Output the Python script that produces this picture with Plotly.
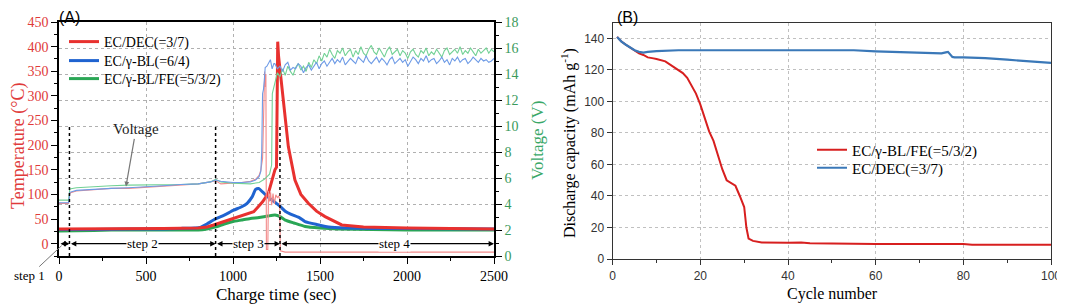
import plotly.graph_objects as go

# ---------------- Panel A data ----------------
temp_red_t = [0, 200, 400, 600, 800, 850, 888, 950, 1004, 1060, 1119, 1145, 1170, 1203, 1220, 1241, 1250, 1254, 1257, 1262, 1276, 1295, 1318, 1356, 1390, 1433, 1480, 1529, 1625, 1750, 2000, 2500]
temp_red = [30, 30, 31, 31, 32, 34, 38, 45, 51, 58, 65, 75, 85, 102, 125, 150, 155, 300, 410, 380, 332, 264, 197, 129, 100, 82, 66, 55, 38, 34, 32, 30]

temp_blue_t = [0, 200, 400, 600, 700, 780, 811, 850, 888, 950, 1004, 1050, 1081, 1110, 1130, 1148, 1170, 1200, 1235, 1270, 1300, 1331, 1385, 1414, 1481, 1550, 1650, 1800, 2000, 2500]
temp_blue = [29, 29, 30, 30, 31, 32, 33, 40, 48, 58, 68, 75, 82, 95, 110, 112, 105, 95, 86, 76, 66, 60, 52, 45, 39, 34, 32, 31, 31, 30]

temp_green_t = [0, 200, 400, 600, 800, 850, 900, 950, 1000, 1050, 1100, 1150, 1200, 1241, 1270, 1300, 1350, 1414, 1500, 1605, 1800, 2000, 2500]
temp_green = [26, 27, 28, 28, 28, 30, 34, 40, 45, 48, 51, 53, 56, 58, 55, 48, 42, 35, 32, 30, 29, 28, 28]

volt_red_t = [0, 55, 60, 62, 100, 200, 300, 400, 500, 600, 700, 800, 870, 900, 930, 1000, 1050, 1100, 1130, 1150, 1160, 1170, 1178, 1182, 1186, 1189, 1192, 1200, 1204, 1210, 1216, 1222, 1230, 1238, 1246, 1255, 1262, 1268, 1272, 1300, 1600, 2000, 2500]
volt_red = [4.05, 4.05, 4.6, 4.85, 5.0, 5.1, 5.2, 5.2, 5.3, 5.4, 5.45, 5.55, 5.7, 5.8, 5.55, 5.6, 5.65, 5.75, 5.9, 6.2, 6.6, 7.5, 12.5, 14.2, 13.0, 14.0, 0.5, 0.5, 5.0, 4.2, 4.9, 3.9, 4.8, 4.0, 4.7, 4.5, 4.6, 4.4, 0.4, 0.3, 0.3, 0.3, 0.3]

volt_blue_t0 = [0, 55, 60, 62, 100, 200, 300, 400, 500, 600, 700, 800, 870, 900, 930, 1000, 1050, 1100, 1130, 1150, 1160, 1165, 1170, 1175, 1180, 1185, 1195, 1205, 1215, 1225, 1235]
volt_blue0 = [4.1, 4.1, 4.6, 4.9, 5.05, 5.15, 5.2, 5.25, 5.3, 5.4, 5.5, 5.55, 5.7, 5.85, 5.75, 5.65, 5.65, 5.7, 5.85, 6.1, 6.5, 8.0, 12.5, 12.8, 13.5, 14.5, 14.6, 14.9, 15.1, 14.4, 14.8]
volt_blue_noisy = [14.8, 14.4, 14.6, 14.2, 14.7, 14.9, 14.3, 14.5, 14.4, 14.8, 14.6, 14.1, 14.5, 14.7, 14.3, 14.6, 14.9,
                   14.4, 14.8, 15.0, 14.6, 14.9, 15.2, 14.8,
                   15.1, 14.9, 15.3, 14.7, 15.0, 15.2, 15.0, 14.8, 15.3, 15.1, 14.9, 15.4, 15.0, 14.8, 15.1, 15.3,
                   14.9, 15.2, 15.0, 14.7, 15.1, 15.3, 14.8, 15.0, 15.2, 14.9, 15.1, 14.6, 15.0, 15.3, 15.1, 14.8,
                   15.2, 15.0, 15.4, 14.9, 15.1, 15.2, 14.8, 15.0, 15.3, 14.9, 15.1, 14.7, 15.2, 15.0, 15.3, 14.9,
                   15.1, 15.2, 14.8, 15.0, 15.3, 15.1, 14.9, 15.2, 15.0, 15.1, 14.9, 15.0, 15.2]

volt_green_t0 = [0, 55, 60, 62, 100, 200, 300, 400, 500, 600, 700, 800, 870, 900, 930, 1000, 1050, 1100, 1150, 1180, 1210, 1222, 1226, 1232]
volt_green0 = [4.3, 4.3, 4.9, 5.15, 5.25, 5.35, 5.4, 5.45, 5.45, 5.45, 5.5, 5.55, 5.7, 5.9, 5.7, 5.6, 5.55, 5.55, 5.65, 5.9, 6.3, 7.0, 12.5, 12.8]
volt_green_noisy = [13.4, 14.1, 13.8, 14.4, 13.9, 14.6, 14.2, 13.9, 14.5, 14.8, 14.3, 14.6, 14.2, 14.9, 14.5, 15.1,
                    14.8, 15.4, 15.0, 15.6, 15.3, 15.9, 15.5, 15.2, 15.8, 15.6, 16.0, 15.4, 15.7, 15.9, 15.3, 15.8,
                    15.5, 16.1, 15.6, 15.4, 15.9, 16.2, 15.7, 15.5, 16.0, 15.6, 15.3, 15.8, 16.1, 15.5, 15.7, 15.9,
                    15.4, 15.8, 15.6, 15.2, 15.7, 15.9, 15.5, 15.3, 15.8, 15.6, 16.0, 15.4, 15.7, 15.5, 15.9, 15.6,
                    15.3, 15.8, 16.0, 15.5, 15.7, 15.9, 15.6, 16.1, 15.5, 15.8, 15.6, 16.0, 15.7, 15.4, 15.9, 15.6,
                    15.8, 16.0, 15.6, 15.9, 15.7]
noisy_start, noisy_end = 1240, 2500

step_bounds = [0, 60, 900, 1270, 2500]
step_labels = ["step 1", "step 2", "step 3", "step 4"]
step_label_x = [None, 480, 1088, 1931]

# ---------------- Panel B data ----------------
cyc_red = [1, 2, 3, 4, 5, 6, 7, 8, 9, 10, 12, 14, 16, 17, 18, 19, 20, 21, 22, 23, 24, 25, 26, 27, 28, 29, 30, 30.5, 31, 32, 34, 40, 43, 45, 50, 56, 60, 70, 80, 82, 90, 100]
cap_red = [141, 138, 136, 134, 132, 130.5, 129.5, 128, 127.5, 127, 125.5, 122, 118, 115, 110, 105, 98, 90, 81, 75, 66, 57, 50, 48, 46.5, 40, 33, 20, 13, 11.5, 10.5, 10.3, 10.5, 10, 9.8, 9.5, 9.5, 9.5, 9.5, 9, 9, 9]
cyc_blue = [1, 2, 3, 4, 5, 6, 7, 8, 10, 15, 30, 55, 60, 70, 75, 76, 76.5, 77.5, 78, 80, 85, 90, 95, 100]
cap_blue = [141, 138, 136, 134, 132.5, 131.5, 131, 131.5, 132, 132.5, 132.5, 132.5, 131.8, 131, 130.5, 131.2, 131.5, 128.3, 128, 128, 127.5, 126.5, 125.5, 124.5]


def even_times(n, t0, t1):
    return [t0 + (t1 - t0) * i / (n - 1) for i in range(n)]


volt_blue_t = volt_blue_t0 + even_times(len(volt_blue_noisy), noisy_start, noisy_end)
volt_blue = volt_blue0 + volt_blue_noisy
volt_green_t = volt_green_t0 + even_times(len(volt_green_noisy), noisy_start, noisy_end)
volt_green = volt_green0 + volt_green_noisy

SERIF = "Liberation Serif, Times New Roman, serif"
SANS = "Liberation Sans, Arial, sans-serif"

# the page body has an 8px margin: the figure is drawn from (8, 8) of the window
OFF = 8
W, H = 1065 - OFF, 306 - OFF


def PX(x):
    return (x - OFF) / W


def PY(y):
    return 1 - (y - OFF) / H


RED = "#e8312f"
BLUE = "#1f63d0"
GREEN = "#2aa655"
PINK = "#f28a8a"
LBLUE = "#6e9be6"
LGREEN = "#72d195"

fig = go.Figure()

fig.add_trace(go.Scatter(x=volt_red_t, y=volt_red, mode="lines", line=dict(color=PINK, width=1.1), yaxis="y2", xaxis="x", showlegend=False))
fig.add_trace(go.Scatter(x=volt_green_t, y=volt_green, mode="lines", line=dict(color=LGREEN, width=1.1), yaxis="y2", xaxis="x", showlegend=False))
fig.add_trace(go.Scatter(x=volt_blue_t, y=volt_blue, mode="lines", line=dict(color=LBLUE, width=1.1), yaxis="y2", xaxis="x", showlegend=False))

fig.add_trace(go.Scatter(x=temp_green_t, y=temp_green, mode="lines", line=dict(color=GREEN, width=3, shape="spline", smoothing=0.5), xaxis="x", yaxis="y", name="EC/γ-BL/FE(=5/3/2)", legend="legend3"))
fig.add_trace(go.Scatter(x=temp_blue_t, y=temp_blue, mode="lines", line=dict(color=BLUE, width=3, shape="spline", smoothing=0.5), xaxis="x", yaxis="y", name="EC/γ-BL(=6/4)", legend="legend2"))
fig.add_trace(go.Scatter(x=temp_red_t, y=temp_red, mode="lines", line=dict(color=RED, width=3), xaxis="x", yaxis="y", name="EC/DEC(=3/7)", legend="legend"))

fig.add_trace(go.Scatter(x=cyc_red, y=cap_red, mode="lines", line=dict(color="#d71f1f", width=2), xaxis="x2", yaxis="y3", name="EC/γ-BL/FE(=5/3/2)", legend="legend4"))
fig.add_trace(go.Scatter(x=cyc_blue, y=cap_blue, mode="lines", line=dict(color="#3a78b8", width=2.2), xaxis="x2", yaxis="y3", name="EC/DEC(=3/7)", legend="legend5"))

xA = [PX(59), PX(494)]
yA = [PY(256), PY(22)]
xB = [PX(612.7), PX(1051)]
yB = [PY(259), PY(22.7)]


def leg(xp, yp, size):
    return dict(x=PX(xp), y=PY(yp), xanchor="left", yanchor="middle", bgcolor="rgba(0,0,0,0)",
                font=dict(family=SERIF, size=size, color="black"), itemwidth=30)


fig.update_layout(
    width=W, height=H,
    margin=dict(l=0, r=0, t=0, b=0, autoexpand=False),
    paper_bgcolor="white", plot_bgcolor="white",
    xaxis=dict(domain=xA, anchor="y", range=[0, 2500], tickvals=[0, 500, 1000, 1500, 2000, 2500], automargin=False,
               ticks="outside", ticklen=6, tickwidth=1.2, tickcolor="black",
               minor=dict(dtick=250, ticks="outside", ticklen=3, tickcolor="black", showgrid=False),
               showline=True, linecolor="black", linewidth=1.5, mirror=True,
               showgrid=True, gridcolor="#b0b0b0", griddash="dot", gridwidth=1,
               zeroline=False, tickfont=dict(family=SERIF, size=14, color="black")),
    yaxis=dict(domain=yA, anchor="x", range=[-25, 450], tickvals=list(range(0, 451, 50)), automargin=False,
               ticks="outside", ticklen=6, tickwidth=1.2, tickcolor="black",
               minor=dict(dtick=25, ticks="outside", ticklen=3, tickcolor="black", showgrid=False),
               showline=True, linecolor="black", linewidth=1.5,
               showgrid=False, zeroline=False, tickfont=dict(family=SERIF, size=14, color="#e03a3a")),
    yaxis2=dict(overlaying="y", side="right", anchor="x", range=[0, 18], tickvals=list(range(0, 19, 2)), automargin=False,
                ticks="outside", ticklen=6, tickwidth=1.2, tickcolor="black",
                minor=dict(dtick=1, ticks="outside", ticklen=3, tickcolor="black", showgrid=False),
                showline=True, linecolor="black", linewidth=1.5,
                showgrid=True, gridcolor="#b0b0b0", griddash="dot", gridwidth=1,
                zeroline=False, tickfont=dict(family=SERIF, size=14, color="#3a9a5c")),
    xaxis2=dict(domain=xB, anchor="y3", range=[0, 100], tickvals=[0, 20, 40, 60, 80, 100], automargin=False,
                ticks="outside", ticklen=5, tickcolor="#333",
                minor=dict(dtick=10, ticks="outside", ticklen=3, tickcolor="#333", showgrid=False),
                showline=True, linecolor="#333", linewidth=1.2, mirror=True,
                showgrid=True, gridcolor="#c0c0c0", griddash="dot", gridwidth=1,
                zeroline=False, tickfont=dict(family=SANS, size=12, color="#333")),
    yaxis3=dict(domain=yB, anchor="x2", range=[0, 150], tickvals=list(range(0, 141, 20)), automargin=False,
                ticks="outside", ticklen=5, tickcolor="#333",
                showline=True, linecolor="#333", linewidth=1.2, mirror=True,
                showgrid=True, gridcolor="#c0c0c0", griddash="dot", gridwidth=1,
                zeroline=False, tickfont=dict(family=SANS, size=12, color="#333")),
    legend=leg(64, 42, 14),
    legend2=leg(64, 61, 14),
    legend3=leg(64, 79, 14),
    legend4=leg(812, 150, 15),
    legend5=leg(812, 168, 15),
)

shapes = []
for b in step_bounds[1:4]:
    shapes.append(dict(type="line", xref="x", yref="y", x0=b, x1=b, y0=-25, y1=240,
                       line=dict(color="black", width=1.5, dash="dot")))
fig.update_layout(shapes=shapes)

ann = []
for i in range(4):
    ann.append(dict(x=step_bounds[i + 1], y=0, ax=step_bounds[i], ay=0, xref="x", yref="y", axref="x", ayref="y",
                    text="", showarrow=True, arrowside="end+start", arrowhead=2, arrowsize=0.9, arrowwidth=1.2,
                    arrowcolor="black", standoff=0, startstandoff=0))
for i in range(1, 4):
    ann.append(dict(x=step_label_x[i], y=0, xref="x", yref="y", text=step_labels[i], showarrow=False,
                    xanchor="center", yanchor="middle",
                    bgcolor="white", font=dict(family=SERIF, size=13, color="black"), borderpad=0))
ann.append(dict(x=15, y=-4, xref="x", yref="y", text="step 1", showarrow=True, arrowhead=0, arrowwidth=1,
                arrowcolor="#777", ax=-32, ay=30, font=dict(family=SERIF, size=13, color="black")))
ann.append(dict(x=385, y=5.35, xref="x", yref="y2", text="Voltage", showarrow=True, arrowhead=2, arrowsize=0.8,
                arrowwidth=1.2, arrowcolor="#777", ax=10, ay=-57, font=dict(family=SERIF, size=15, color="#222")))


def paper_text(xp, yp, text, font, angle=0, xanchor="center", pad=1):
    return dict(x=PX(xp), y=PY(yp), xref="paper", yref="paper", xanchor=xanchor, yanchor="middle",
                text=text, textangle=angle, showarrow=False, font=font, borderpad=pad)


ann.append(paper_text(58, 17, "(A)", dict(family=SANS, size=16, color="black"), xanchor="left", pad=0))
ann.append(paper_text(616, 17, "(B)", dict(family=SANS, size=16, color="black"), xanchor="left", pad=0))
ann.append(paper_text(18, 146, "Temperature (°C)", dict(family=SERIF, size=18, color="#e03a3a"), angle=-90))
ann.append(paper_text(537, 141, "Voltage (V)", dict(family=SERIF, size=17, color="#3aa868"), angle=-90))
ann.append(paper_text(276.5, 294, "Charge time (sec)", dict(family=SERIF, size=17, color="black")))
ann.append(paper_text(568, 143, "Discharge capacity (mAh g<sup>-1</sup>)", dict(family=SERIF, size=16, color="black"), angle=-90))
ann.append(paper_text(832, 294, "Cycle number", dict(family=SERIF, size=16, color="black")))
fig.update_layout(annotations=ann)

fig.write_html("out.html")
